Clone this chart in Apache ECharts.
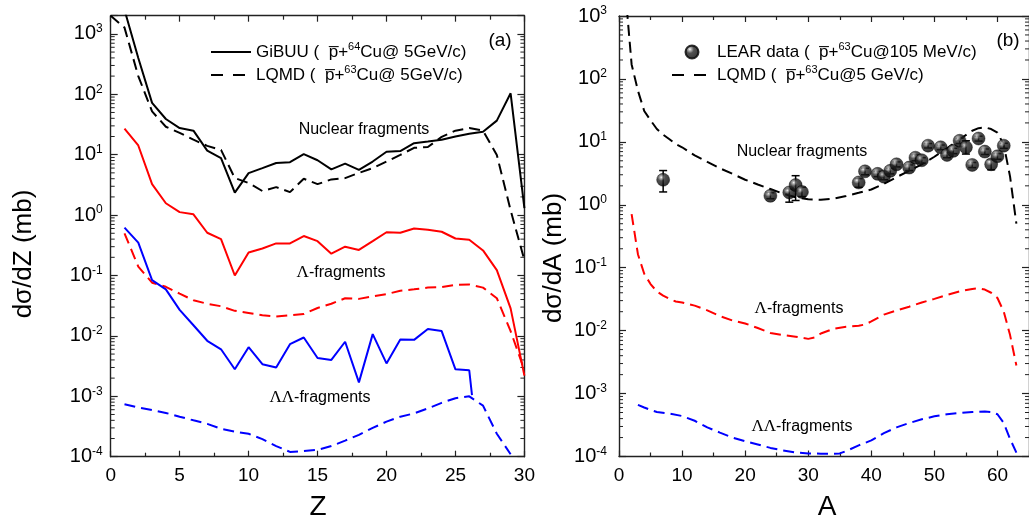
<!DOCTYPE html>
<html><head><meta charset="utf-8">
<script src="https://cdn.jsdelivr.net/npm/echarts@6/dist/echarts.min.js"></script>
<style>html,body{margin:0;padding:0;background:#fff}#c{width:1029px;height:521px}</style>
</head><body><div id="c"></div><script>
// ---------- Panel (a): dσ/dZ vs Z ----------
const zLeft = [1,2,3,4,5,6,7,8,9,10,11,12,13,14,15,16,17,18,19,20,21,22,23,24,25,26,27,28,29,30];
const gibuuNuclear = [2500,400,72,39,27.6,25,11.7,8.8,2.36,4.95,6.0,7.3,7.5,10.2,8.1,5.7,7.1,5.6,7.7,11.2,11.5,15.5,16.5,17.7,20,22.2,24,36.6,104,1.3];
const zLqmdNuclear = [0,1,2,3,4,5,6,7,8,9,10,11,12,13,14,15,16,17,18,19,20,21,22,23,24,25,26,27,28,29,30];
const lqmdNuclear = [2000,1270,200,52,29,23,17.7,14,12,4.1,3.4,2.5,2.9,2.4,4.0,3.25,3.9,4.1,5.0,6.0,7.7,9.9,13,13.4,19.7,25,27.6,25,9.9,1.2,0.18];
const gibuuLambda = [27,14.2,3.25,1.57,1.12,1.03,0.51,0.40,0.10,0.24,0.28,0.34,0.34,0.45,0.37,0.23,0.30,0.265,0.37,0.52,0.51,0.60,0.57,0.53,0.41,0.39,0.26,0.123,0.0286,0.0022];
const lqmdLambda = [0.50,0.14,0.076,0.065,0.05,0.039,0.034,0.031,0.026,0.024,0.022,0.021,0.022,0.023,0.029,0.034,0.042,0.041,0.045,0.049,0.056,0.059,0.063,0.064,0.07,0.071,0.063,0.042,0.012,0.0027];
const zGibuuDouble = [1,2,3,4,5,6,7,8,9,10,11,12,13,14,15,16,17,18,19,20,21,22,23,24,25,26,26.2];
const gibuuDouble = [0.62,0.35,0.084,0.059,0.027,0.015,0.0083,0.006,0.0028,0.0065,0.0034,0.003,0.0073,0.0094,0.0043,0.004,0.008,0.0017,0.0107,0.0035,0.0087,0.0086,0.013,0.012,0.0028,0.0027,0.00105];
const zLqmdDouble = [1,2,3,4,5,6,7,8,9,10,11,12,13,14,15,16,17,18,19,20,21,22,23,24,25,26,27,28,29];
const lqmdDouble = [7.4e-4,6.5e-4,5.9e-4,5.3e-4,4.6e-4,4.0e-4,3.5e-4,2.9e-4,2.6e-4,2.4e-4,1.95e-4,1.5e-4,1.2e-4,1.24e-4,1.3e-4,1.5e-4,1.85e-4,2.3e-4,3.0e-4,3.8e-4,4.6e-4,5.2e-4,6.3e-4,7.8e-4,9.3e-4,1.0e-3,7.0e-4,2.4e-4,1.1e-4];

// ---------- Panel (b): dσ/dA vs A ----------
const aLqmdNuclear = [1,2,3,4,5,6,7,8,9,10,12,14,16,18,20,22,24,26,28,30,32,34,36,38,40,42,44,46,48,50,52,54,56,57,58,59,60,61,62,63];
const lqmdNuclearA = [2500,170,65,31,22,16,13,11,9.2,8.2,6.1,4.8,3.8,3.1,2.5,2.1,1.78,1.5,1.32,1.22,1.2,1.25,1.38,1.55,1.75,2.15,2.75,3.47,4.4,5.8,7.9,11,15,16.5,17,16,14,9,2.8,0.5];
const aLqmdLambda = [2,3,4,5,6,7,8,9,10,12,14,16,18,20,22,24,26,28,30,31,32,34,36,38,39,40,42,44,46,48,50,52,54,56,57,58,59,60,61,62,63];
const lqmdLambdaA = [0.71,0.164,0.08,0.055,0.042,0.036,0.032,0.029,0.028,0.025,0.021,0.017,0.0145,0.013,0.011,0.0092,0.0085,0.008,0.0074,0.0078,0.009,0.0107,0.0115,0.012,0.0125,0.014,0.018,0.021,0.024,0.028,0.032,0.037,0.042,0.046,0.047,0.045,0.04,0.033,0.02,0.0085,0.0028];
const aLqmdDouble = [3,4,5,6,8,10,12,14,16,18,20,22,24,26,28,30,32,34,35,36,38,40,42,44,46,48,50,52,54,56,58,59,60,61,62,63];
const lqmdDoubleA = [6.6e-4,6.0e-4,5.5e-4,5.1e-4,4.8e-4,4.4e-4,3.7e-4,2.9e-4,2.4e-4,2.0e-4,1.75e-4,1.55e-4,1.37e-4,1.25e-4,1.16e-4,1.12e-4,1.11e-4,1.11e-4,1.12e-4,1.22e-4,1.5e-4,1.8e-4,2.35e-4,2.9e-4,3.4e-4,3.9e-4,4.35e-4,4.7e-4,4.9e-4,5.1e-4,5.2e-4,5.1e-4,4.7e-4,3.4e-4,1.9e-4,1.15e-4];
const learA  = [7,24,27,28,29,38,39,41,42,43,44,46,47,48,49,51,52,53,54,55,56,57,58,59,60,61];
const learY  = [2.5,1.39,1.57,2.06,1.6,2.26,3.4,3.1,2.8,3.46,4.4,3.9,5.6,5.1,8.7,8.2,6.2,7.2,10.4,8.2,4.3,11.3,7.0,4.4,5.9,8.7];
const learLo = [1.6,1.25,1.1,1.17,1.35,1.9,3.0,2.8,2.5,3.1,4.0,3.5,5.0,4.6,8.0,7.5,5.6,6.5,9.4,6.4,3.9,10.3,6.3,3.6,5.3,7.9];
const learHi = [3.5,1.55,1.78,2.9,1.9,2.6,3.8,3.4,3.1,3.8,4.8,4.3,6.2,5.6,9.4,8.9,6.8,7.9,11.4,10.4,4.7,12.3,7.7,5.2,6.5,9.5];

// axis tick values
const decadeExponents = [-4,-3,-2,-1,0,1,2,3];
const minorMultipliers = [2,3,4,5,6,7,8,9];

const FF = '"Liberation Sans", Arial, Helvetica, sans-serif';
const pairs = (xs, ys) => xs.map((x, i) => [x, ys[i]]);
const AX = '#222';

function minorLogValues(maxV) {
  const out = [];
  decadeExponents.forEach(e => minorMultipliers.forEach(m => { const v = m * Math.pow(10, e); if (v < maxV) out.push(v); }));
  return out;
}

function logLabel(v) {
  const l = Math.log10(v);
  const e = Math.round(l);
  if (Math.abs(l - e) > 0.01) return '';
  return '{b|10}{s|' + e + '}';
}

function xAxisCfg(grid, max, interval, pos, withLabels, showMax) {
  return {
    type: 'value', gridIndex: grid, min: 0, max: max, interval: interval, position: pos,
    axisLine: { show: true, onZero: false, lineStyle: { color: AX, width: 1.4 } },
    axisTick: { show: true, inside: true, length: 6, lineStyle: { color: AX, width: 1.2 } },
    minorTick: { show: true, splitNumber: 2, length: 4, lineStyle: { color: AX, width: 1.2 } },
    splitLine: { show: false }, minorSplitLine: { show: false },
    axisLabel: withLabels ? { show: true, fontSize: 19, fontFamily: FF, color: '#000', margin: 10, showMaxLabel: showMax,
      formatter: v => (v > max - 1e-9 && !showMax) ? '' : String(v) } : { show: false }
  };
}
function yAxisCfg(grid, max, pos, withLabels, margin) {
  return {
    type: 'log', logBase: 10, gridIndex: grid, min: 1e-4, max: max, position: pos,
    axisLine: { show: true, onZero: false, lineStyle: { color: AX, width: 1.4 } },
    axisTick: { show: true, inside: true, length: 7, lineStyle: { color: AX, width: 1.2 } },
    minorTick: { show: false }, splitLine: { show: false },
    axisLabel: withLabels ? {
      show: true, margin: margin, formatter: logLabel, color: '#000',
      rich: { b: { fontSize: 20, fontFamily: FF, color: '#000', lineHeight: 22 },
              s: { fontSize: 12, fontFamily: FF, color: '#000', verticalAlign: 'top', lineHeight: 8 } }
    } : { show: false }
  };
}

function minorTickRender(params, api) {
  const cs = params.coordSys;
  const p = api.coord([api.value(0), api.value(1)]);
  const y = p[1];
  const st = { stroke: AX, lineWidth: 1 };
  return { type: 'group', children: [
    { type: 'line', shape: { x1: cs.x, y1: y, x2: cs.x + 4, y2: y }, style: st },
    { type: 'line', shape: { x1: cs.x + cs.width - 4, y1: y, x2: cs.x + cs.width, y2: y }, style: st }
  ]};
}
function errRender(params, api) {
  const a = api.value(0);
  const lo = api.coord([a, api.value(1)]);
  const hi = api.coord([a, api.value(2)]);
  const st = { stroke: '#000', lineWidth: 1.5 };
  return { type: 'group', children: [
    { type: 'line', shape: { x1: lo[0], y1: lo[1], x2: hi[0], y2: hi[1] }, style: st },
    { type: 'line', shape: { x1: lo[0] - 4, y1: lo[1], x2: lo[0] + 4, y2: lo[1] }, style: st },
    { type: 'line', shape: { x1: hi[0] - 4, y1: hi[1], x2: hi[0] + 4, y2: hi[1] }, style: st }
  ]};
}

const DASH = [11, 6];
function lineSeries(name, xi, data, color, dashed) {
  return { type: 'line', name: name, xAxisIndex: xi, yAxisIndex: xi, data: data,
    symbol: 'none', showSymbol: false, smooth: false, z: 3, silent: true,
    lineStyle: { color: color, width: 2, type: dashed ? DASH : 'solid' }, itemStyle: { color: color } };
}

const sphere = { type: 'radial', x: 0.36, y: 0.32, r: 0.7, colorStops: [
  { offset: 0, color: '#ffffff' }, { offset: 0.12, color: '#a8a8a8' }, { offset: 0.38, color: '#262626' }, { offset: 1, color: '#000000' } ] };

const legendNames = {
  'GiBUU': '{t|GiBUU (  p\u0305+}{s|64}{t|Cu@ 5GeV/c)}',
  'LQMD-a': '{t|LQMD (  p\u0305+}{s|63}{t|Cu@ 5GeV/c)}',
  'LEAR': '{t|LEAR data (  p\u0305+}{s|63}{t|Cu@105 MeV/c)}',
  'LQMD-b': '{t|LQMD (  p\u0305+}{s|63}{t|Cu@5 GeV/c)}'
};
const legendText = { fontSize: 17, fontFamily: FF, color: '#000', lineHeight: 22,
  rich: { t: { fontSize: 17, fontFamily: FF, color: '#000', lineHeight: 22 },
          s: { fontSize: 11, fontFamily: FF, color: '#000', verticalAlign: 'top', lineHeight: 8 } } };
const noSymbol = { color: 'rgba(0,0,0,0)', borderColor: 'rgba(0,0,0,0)', borderWidth: 0, opacity: 0 };

function txt(x, y, text, size, extra) {
  return { type: 'text', x: x, y: y, silent: true, style: Object.assign({ text: text, fontSize: size, fontFamily: FF, fill: '#000', align: 'center', verticalAlign: 'middle' }, extra || {}) };
}
const lamRich = { rich: { g: { fontFamily: '"Liberation Serif", "Times New Roman", serif', fontSize: 17, color: '#000' }, n: { fontFamily: FF, fontSize: 16, color: '#000' } } };

const chart = echarts.init(document.getElementById('c'), null, { renderer: 'canvas' });
chart.setOption({
  animation: false,
  backgroundColor: '#fff',
  grid: [
    { left: 110.7, top: 15.7, width: 413.7, height: 441, containLabel: false },
    { left: 619, top: 16, width: 415.7, height: 440.5, containLabel: false }
  ],
  xAxis: [ xAxisCfg(0, 30, 5, 'bottom', true, true), xAxisCfg(0, 30, 5, 'top', false, false),
           xAxisCfg(1, 65, 10, 'bottom', true, false), xAxisCfg(1, 65, 10, 'top', false, false) ],
  yAxis: [ yAxisCfg(0, 2000, 'left', true, 8), yAxisCfg(0, 2000, 'right', false, 8),
           yAxisCfg(1, 1000, 'left', true, 12), yAxisCfg(1, 1000, 'right', false, 8) ],
  legend: [
    { left: 210, top: 41, padding: 0, orient: 'vertical', itemWidth: 40, itemHeight: 14, itemGap: 1, selectedMode: false,
      data: [ { name: 'GiBUU', itemStyle: noSymbol }, { name: 'LQMD-a', itemStyle: noSymbol, lineStyle: { type: [12, 10] } } ],
      formatter: n => legendNames[n], textStyle: legendText },
    { left: 671, top: 41, padding: 0, orient: 'vertical', itemWidth: 40, itemHeight: 13, itemGap: 1, selectedMode: false,
      data: [ { name: 'LEAR' }, { name: 'LQMD-b', itemStyle: noSymbol, lineStyle: { type: [12, 10] } } ],
      formatter: n => legendNames[n], textStyle: legendText }
  ],
  series: [
    { type: 'custom', name: 'minorA', xAxisIndex: 0, yAxisIndex: 0, silent: true, z: 1,
      data: minorLogValues(2000).map(v => [0, v]), renderItem: minorTickRender },
    { type: 'custom', name: 'minorB', xAxisIndex: 2, yAxisIndex: 2, silent: true, z: 1,
      data: minorLogValues(1000).map(v => [0, v]), renderItem: minorTickRender },
    lineSeries('GiBUU', 0, pairs(zLeft, gibuuNuclear), '#000', false),
    lineSeries('LQMD-a', 0, pairs(zLqmdNuclear, lqmdNuclear), '#000', true),
    lineSeries('GiBUU Λ', 0, pairs(zLeft, gibuuLambda), '#ff0000', false),
    lineSeries('LQMD Λ', 0, pairs(zLeft, lqmdLambda), '#ff0000', true),
    lineSeries('GiBUU ΛΛ', 0, pairs(zGibuuDouble, gibuuDouble), '#0000ff', false),
    lineSeries('LQMD ΛΛ', 0, pairs(zLqmdDouble, lqmdDouble), '#0000ff', true),
    lineSeries('LQMD-b', 2, pairs(aLqmdNuclear, lqmdNuclearA), '#000', true),
    lineSeries('LQMD-b Λ', 2, pairs(aLqmdLambda, lqmdLambdaA), '#ff0000', true),
    lineSeries('LQMD-b ΛΛ', 2, pairs(aLqmdDouble, lqmdDoubleA), '#0000ff', true),
    { type: 'custom', name: 'LEAR err', xAxisIndex: 2, yAxisIndex: 2, silent: true, z: 4,
      data: learA.map((a, i) => [a, learLo[i], learHi[i]]), renderItem: errRender },
    { type: 'scatter', name: 'LEAR', xAxisIndex: 2, yAxisIndex: 2, z: 5, silent: true,
      data: pairs(learA, learY), symbol: 'circle', symbolSize: 13,
      itemStyle: { color: sphere, borderColor: '#000', borderWidth: 0.5 } }
  ],
  graphic: [
    txt(364, 130, 'Nuclear fragments', 16),
    txt(341, 273, '{g|Λ}{n|-fragments}', 16, lamRich),
    txt(320, 398, '{g|ΛΛ}{n|-fragments}', 16, lamRich),
    txt(802, 152, 'Nuclear fragments', 16),
    txt(799, 309, '{g|Λ}{n|-fragments}', 16, lamRich),
    txt(802, 427, '{g|ΛΛ}{n|-fragments}', 16, lamRich),
    txt(500, 41, '(a)', 19),
    txt(1008, 41, '(b)', 19),
    txt(318, 507, 'Z', 28),
    txt(827, 507, 'A', 28),
    Object.assign(txt(24, 254, 'dσ/dZ (mb)', 26), { rotation: Math.PI / 2 }),
    Object.assign(txt(554, 258, 'dσ/dA (mb)', 26), { rotation: Math.PI / 2 })
  ]
});
</script></body></html>
